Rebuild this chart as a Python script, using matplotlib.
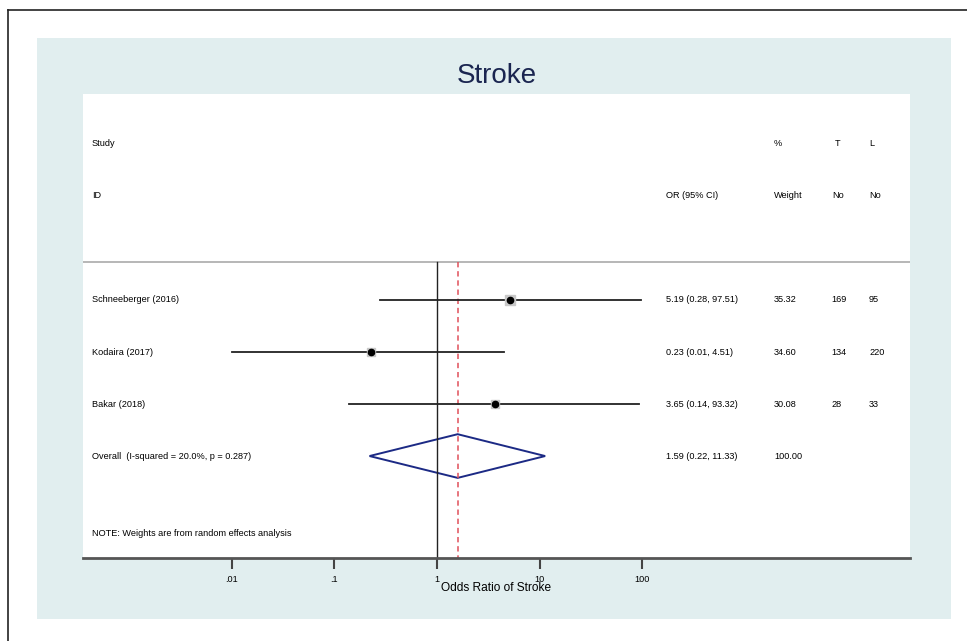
import numpy as np
import matplotlib
matplotlib.use("Agg")
import matplotlib.pyplot as plt
from matplotlib.patches import Rectangle, Polygon
from matplotlib.lines import Line2D

plt.rcParams['font.family'] = ['Liberation Sans', 'DejaVu Sans']

# data
studies = ["Schneeberger (2016)", "Kodaira (2017)", "Bakar (2018)"]
or_est = [5.19, 0.23, 3.65]
or_lo = [0.28, 0.01, 0.14]
or_hi = [97.51, 4.51, 93.32]
weights = [35.32, 34.60, 30.08]
t_no = [169, 134, 28]
l_no = [95, 220, 33]
overall_label = "Overall  (I-squared = 20.0%, p = 0.287)"
overall = (1.59, 0.22, 11.33)
overall_weight = 100.00
tick_vals = [0.01, 0.1, 1, 10, 100]
tick_labels = [".01", ".1", "1", "10", "100"]

W, H = 967, 641
fig = plt.figure(figsize=(W / 100, H / 100), dpi=100)
fig.patch.set_facecolor("white")

def fx(px):
    return px / W

def fy(py):
    return 1 - py / H

# border (left and top only, picture is cropped)
fig.add_artist(Line2D([fx(8), fx(8)], [fy(10), 0], color="#222222", lw=1.2))
fig.add_artist(Line2D([fx(8), 1], [fy(10), fy(10)], color="#222222", lw=1.2))
# light background panel
fig.add_artist(Rectangle((fx(37), fy(619)), fx(951 - 37), (619 - 38) / H,
                         facecolor="#e1eeef", edgecolor="none", zorder=0))

ax_l, ax_r, ax_t, ax_b = 83, 910, 94, 558
ax = fig.add_axes([fx(ax_l), fy(ax_b), fx(ax_r - ax_l), (ax_b - ax_t) / H])
ax.set_facecolor("white")
ax.set_xscale("log")
ax.set_xlim(10 ** -3.45, 10 ** 4.61)
ax.set_ylim(4.96, -3.96)
for s in ["top", "left", "right"]:
    ax.spines[s].set_visible(False)
ax.spines["bottom"].set_color("#555555")
ax.spines["bottom"].set_linewidth(2)
ax.set_yticks([])
ax.set_xticks(tick_vals)
ax.set_xticklabels(tick_labels, fontsize=6.6)
ax.minorticks_off()
ax.tick_params(axis="x", direction="out", length=8, width=1.5, color="#444444", pad=4)
ax.set_xlabel("Odds Ratio of Stroke", fontsize=8.6, labelpad=-1)

sep_y = -0.73
ax.axhline(sep_y, color="#aaaaaa", lw=1.2)
ax.plot([1, 1], [sep_y, 4.96], color="#222222", lw=1.0)
ax.plot([overall[0], overall[0]], [sep_y, 4.96], color="#e0505a", lw=1.1, ls=(0, (3.5, 2.5)))

fs = 6.6
tr = ax.get_yaxis_transform()
col_id = (92 - ax_l) / (ax_r - ax_l)
col_or = (666 - ax_l) / (ax_r - ax_l)
col_w = (774 - ax_l) / (ax_r - ax_l)
col_t = (831 - ax_l) / (ax_r - ax_l)
col_l = (869 - ax_l) / (ax_r - ax_l)

# headers
ax.text(col_id, -3, "Study", transform=tr, fontsize=fs, va="center")
ax.text(col_id, -2, "ID", transform=tr, fontsize=fs, va="center")
ax.text(col_or, -2, "OR (95% CI)", transform=tr, fontsize=fs, va="center")
ax.text(col_w, -3, "%", transform=tr, fontsize=fs, va="center")
ax.text(col_w, -2, "Weight", transform=tr, fontsize=fs, va="center")
ax.text(col_t + 0.005, -3, "T", transform=tr, fontsize=fs, va="center")
ax.text(col_t + 0.002, -2, "No", transform=tr, fontsize=fs, va="center")
ax.text(col_l, -3, "L", transform=tr, fontsize=fs, va="center")
ax.text(col_l, -2, "No", transform=tr, fontsize=fs, va="center")

for i, name in enumerate(studies):
    ax.plot([or_lo[i], or_hi[i]], [i, i], color="#222222", lw=1.3)
    ax.plot(or_est[i], i, marker="s", ms=np.sqrt(weights[i]) * 1.1,
            color="#c8c8c8", mec="#c8c8c8")
    ax.plot(or_est[i], i, marker="o", ms=4.5, color="black")
    ax.text(col_id, i, name, transform=tr, fontsize=fs, va="center")
    ax.text(col_or, i, "%.2f (%.2f, %.2f)" % (or_est[i], or_lo[i], or_hi[i]),
            transform=tr, fontsize=fs, va="center")
    ax.text(col_w, i, "%.2f" % weights[i], transform=tr, fontsize=fs, va="center")
    ax.text(col_t, i, str(t_no[i]), transform=tr, fontsize=fs, va="center")
    ax.text(col_l, i, str(l_no[i]), transform=tr, fontsize=fs, va="center")

k = len(studies)
est, lo, hi = overall
ax.add_patch(Polygon([[lo, k], [est, k - 0.42], [hi, k], [est, k + 0.42]],
                     closed=True, fill=False, edgecolor="#1c2a85", lw=1.4))
ax.text(col_id, k, overall_label, transform=tr, fontsize=fs, va="center")
ax.text(col_or, k, "%.2f (%.2f, %.2f)" % overall, transform=tr, fontsize=fs, va="center")
ax.text(col_w, k, "%.2f" % overall_weight, transform=tr, fontsize=fs, va="center")

ax.text(col_id, 4.48, "NOTE: Weights are from random effects analysis",
        transform=tr, fontsize=fs, va="center")

fig.text(fx(497), fy(76), "Stroke", fontsize=20, color="#1a2550", ha="center", va="center")

fig.savefig("out.png", dpi=100)
